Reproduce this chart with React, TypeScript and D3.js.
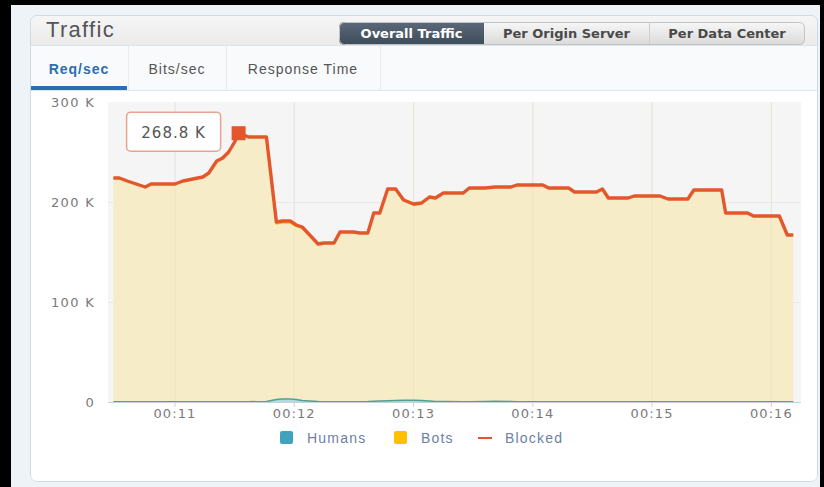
import React from "react";
import * as d3 from "d3";

// seconds after 00:10:00
const times = [29, 32, 36, 45, 48, 60, 64, 69, 74, 77, 81, 84, 87, 90, 92, 97, 106, 111, 114, 118, 121, 124, 132, 135, 140, 143, 150, 153, 157, 160, 163, 167, 171, 175, 180, 184, 188, 191, 195, 205, 208, 216, 221, 229, 232, 245, 248, 258, 261, 272, 275, 278, 288, 291, 304, 308, 318, 321, 335, 337, 348, 351, 364, 368, 371];
// K req/sec
const blocked = [224, 224, 221, 215, 218, 218, 221, 223, 225, 229, 241, 244, 250, 260, 268.8, 265, 265, 180, 181, 181, 177, 175, 158, 159, 159, 170, 170, 169, 169, 189, 189, 213, 213, 202, 198, 199, 205, 204, 209, 209, 214, 214, 215, 215, 217, 217, 214, 214, 210, 210, 213, 204, 204, 206, 206, 203, 203, 212, 212, 189, 189, 186, 186, 167, 167];
const humans = [0.3, 0.3, 0.3, 0.3, 0.3, 0.3, 0.3, 0.3, 0.3, 0.3, 0.3, 0.3, 0.3, 0.3, 0.3, 0.3, 0.5, 2.5, 3, 3, 2.5, 1.5, 0.5, 0.3, 0.3, 0.3, 0.3, 0.3, 0.5, 0.8, 1, 1.2, 1.5, 1.8, 1.8, 1.5, 1, 0.6, 0.4, 0.3, 0.3, 0.5, 0.8, 0.6, 0.3, 0.3, 0.3, 0.3, 0.3, 0.3, 0.3, 0.3, 0.3, 0.3, 0.3, 0.3, 0.3, 0.3, 0.3, 0.3, 0.3, 0.3, 0.3, 0.3, 0.3];
const bots = [223.5, 223.5, 220.5, 214.5, 217.5, 217.5, 220.5, 222.5, 224.5, 228.5, 240.5, 243.5, 249.5, 259.5, 268.3, 264.5, 264.3, 175.5, 176, 176, 173, 172, 157.3, 158.5, 158.5, 169.5, 169.5, 168.5, 168.3, 188, 187.8, 211.5, 211.2, 199.5, 195, 196.5, 203.6, 203.2, 208.4, 208.5, 213.5, 213.3, 214, 214.2, 216.5, 216.5, 213.5, 213.5, 209.5, 209.5, 212.5, 203.5, 203.5, 205.5, 205.5, 202.5, 202.5, 211.5, 211.5, 188.5, 188.5, 185.5, 185.5, 166.5, 166.5];

const xTicks = [60, 120, 180, 240, 300, 360];
const xTickLabels = ["00:11", "00:12", "00:13", "00:14", "00:15", "00:16"];
const yTicks = [0, 100, 200, 300];
const yTickLabels = ["0", "100 K", "200 K", "300 K"];
const buttons = ["Overall Traffic", "Per Origin Server", "Per Data Center"];
const tabs = ["Req/sec", "Bits/sec", "Response Time"];
const legendItems = ["Humans", "Bots", "Blocked"];
const peakIndex = 14;
const peakLabel = "268.8 K";

const C = {
  blocked: "#e4572b",
  botsFill: "#f6ecc7",
  botsStroke: "#ffc20e",
  humans: "#3fa3c0",
  humansLine: "#4fa38e",
};

export default function App() {
  const x = d3.scaleLinear().domain([26.3, 374.9]).range([108, 801]);
  const y = d3.scaleLinear().domain([0, 300]).range([402, 102]);

  const rows = times.map((t, i) => ({ t, h: humans[i], b: bots[i], bl: blocked[i] }));
  const stack = d3.stack<any>().keys(["h", "b"])(rows as any);
  const area = d3
    .area<any>()
    .x((d) => x(d.data.t))
    .y0((d) => y(d[0]))
    .y1((d) => y(d[1]));
  const topLine = d3
    .line<any>()
    .x((d) => x(d.data.t))
    .y((d) => y(d[1]));
  const blockedLine = d3
    .line<any>()
    .x((d) => x(d.t))
    .y((d) => y(d.bl));

  const px = x(times[peakIndex]);
  const py = y(blocked[peakIndex]);

  const font = "'DejaVu Sans', Verdana, sans-serif";
  const arial = "'Liberation Sans', Arial, sans-serif";

  const btnX = [339, 484, 649, 805];
  const tabX = [30, 128, 226, 380];

  return (
    <svg
      width={824}
      height={487}
      style={{ position: "fixed", left: 0, top: 0, display: "block" }}
    >
      <defs>
        <linearGradient id="hdr" x1="0" y1="0" x2="0" y2="1">
          <stop offset="0" stopColor="#f6f6f6" />
          <stop offset="1" stopColor="#ebebeb" />
        </linearGradient>
        <linearGradient id="btnDark" x1="0" y1="0" x2="0" y2="1">
          <stop offset="0" stopColor="#5a6878" />
          <stop offset="1" stopColor="#3e4b59" />
        </linearGradient>
        <linearGradient id="btnLight" x1="0" y1="0" x2="0" y2="1">
          <stop offset="0" stopColor="#f7f7f7" />
          <stop offset="1" stopColor="#dadada" />
        </linearGradient>
        <clipPath id="panelClip">
          <rect x={30} y={15} width={788} height={467} rx={6} />
        </clipPath>
        <clipPath id="btnClip">
          <rect x={btnX[0]} y={22} width={btnX[3] - btnX[0]} height={23} rx={5} />
        </clipPath>
      </defs>
      <rect x={0} y={0} width={824} height={487} fill="#000" />
      <rect x={11} y={5} width={809} height={482} fill="#eef3f8" />
      {/* panel */}
      <g clipPath="url(#panelClip)">
        <rect x={30} y={15} width={788} height={467} fill="#fff" />
        <rect x={30} y={15} width={788} height={30} fill="url(#hdr)" />
        <line x1={30} x2={818} y1={45.5} y2={45.5} stroke="#dfe4ea" />
        <rect x={30} y={46} width={788} height={44} fill="#f8fafc" />
        <line x1={30} x2={818} y1={90.5} y2={90.5} stroke="#dde5ee" />
        {tabX.slice(1).map((tx) => (
          <line key={tx} x1={tx + 0.5} x2={tx + 0.5} y1={46} y2={90} stroke="#e6ebf1" />
        ))}
        <rect x={30} y={86} width={97} height={4} fill="#2d6db0" />
      </g>
      <rect x={30.5} y={15.5} width={787} height={466} rx={6} fill="none" stroke="#cfdbe8" />
      <text x={46} y={37} fontFamily={arial} fontSize={22} letterSpacing={1.3} fill="#555">
        Traffic
      </text>
      {/* buttons */}
      <g clipPath="url(#btnClip)">
        {buttons.map((b, i) => (
          <rect
            key={b}
            x={btnX[i]}
            y={22}
            width={btnX[i + 1] - btnX[i]}
            height={23}
            fill={i === 0 ? "url(#btnDark)" : "url(#btnLight)"}
          />
        ))}
        <line x1={649.5} x2={649.5} y1={22} y2={45} stroke="#cfcfcf" />
      </g>
      <rect x={btnX[0] + 0.5} y={22.5} width={btnX[3] - btnX[0] - 1} height={22} rx={5} fill="none" stroke="#bfc4c9" />
      {buttons.map((b, i) => (
        <text
          key={b}
          x={(btnX[i] + btnX[i + 1]) / 2}
          y={38}
          textAnchor="middle"
          fontFamily={font}
          fontWeight="bold"
          fontSize={13}
          fill={i === 0 ? "#fff" : "#4a4a4a"}
        >
          {b}
        </text>
      ))}
      {/* tabs */}
      {tabs.map((t, i) => (
        <text
          key={t}
          x={(tabX[i] + tabX[i + 1]) / 2}
          y={74}
          textAnchor="middle"
          fontFamily={arial}
          fontSize={14}
          letterSpacing={1}
          fill={i === 0 ? "#2d6db0" : "#555"}
          fontWeight={i === 0 ? "bold" : "normal"}
        >
          {t}
        </text>
      ))}
      {/* plot */}
      <rect x={108} y={102} width={693} height={300} fill="#f5f5f5" />
      {yTicks.slice(1, 3).map((v) => (
        <line key={v} x1={108} x2={801} y1={y(v) + 0.5} y2={y(v) + 0.5} stroke="#e8e8e8" />
      ))}
      {xTicks.map((t) => (
        <line key={t} x1={x(t)} x2={x(t)} y1={102} y2={402} stroke="#e6ebec" />
      ))}
      <path d={area(stack[1] as any) || ""} fill={C.botsFill} />
      <path d={area(stack[0] as any) || ""} fill={C.humans} opacity={0.35} />
      {xTicks.map((t) => (
        <line key={"g" + t} x1={x(t)} x2={x(t)} y1={102} y2={402} stroke="#e3e3c8" strokeOpacity={0.6} />
      ))}
      <path d={topLine(stack[1] as any) || ""} fill="none" stroke={C.botsStroke} strokeWidth={1.5} />
      <path d={topLine(stack[0] as any) || ""} fill="none" stroke={C.humansLine} strokeWidth={1.5} />
      <line x1={108} x2={801} y1={402.5} y2={402.5} stroke="#c5d3d8" />
      {xTicks.map((t) => (
        <line key={"t" + t} x1={x(t)} x2={x(t)} y1={402} y2={407} stroke="#c9d2d8" />
      ))}
      <path d={blockedLine(rows) || ""} fill="none" stroke={C.blocked} strokeWidth={3.4} strokeLinejoin="round" />
      <rect x={px - 7} y={py - 7} width={14} height={14} fill={C.blocked} />
      {/* tooltip */}
      <rect x={px - 112} y={py - 21} width={94} height={39} rx={4} fill="#fff" stroke="#e6a48e" strokeWidth={1.5} />
      <text x={px - 65} y={py + 5} textAnchor="middle" fontFamily={font} fontSize={15} letterSpacing={1} fill="#555">
        {peakLabel}
      </text>
      {/* axes labels */}
      {yTicks.map((v, i) => (
        <text key={v} x={95} y={y(v) + 5} textAnchor="end" fontFamily={font} fontSize={13} letterSpacing={1.3} fill="#7a7a7a">
          {yTickLabels[i]}
        </text>
      ))}
      {xTicks.map((t, i) => (
        <text key={t} x={x(t)} y={418} textAnchor="middle" fontFamily={font} fontSize={13} letterSpacing={1.1} fill="#7a7a7a">
          {xTickLabels[i]}
        </text>
      ))}
      {/* legend */}
      <rect x={280} y={431} width={13} height={13} rx={2} fill={C.humans} />
      <text x={307} y={443} fontFamily={arial} fontSize={14} letterSpacing={1.2} fill="#6d7fa6">
        {legendItems[0]}
      </text>
      <rect x={394} y={431} width={13} height={13} rx={2} fill="#ffc000" />
      <text x={421} y={443} fontFamily={arial} fontSize={14} letterSpacing={1.2} fill="#6d7fa6">
        {legendItems[1]}
      </text>
      <line x1={478} x2={492} y1={438} y2={438} stroke={C.blocked} strokeWidth={2} />
      <text x={505} y={443} fontFamily={arial} fontSize={14} letterSpacing={1.2} fill="#6d7fa6">
        {legendItems[2]}
      </text>
    </svg>
  );
}
